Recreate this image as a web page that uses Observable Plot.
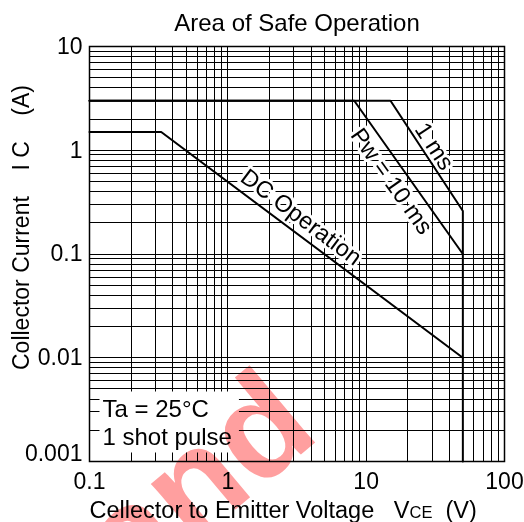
<!DOCTYPE html>
<html>
<head>
<meta charset="utf-8">
<script src="https://cdn.jsdelivr.net/npm/d3@7"></script>
<script src="https://cdn.jsdelivr.net/npm/@observablehq/plot@0.6"></script>
<style>
  html, body { margin: 0; padding: 0; background: #fff; }
  #chart svg { display: block; }
</style>
</head>
<body>
<div id="chart"></div>
<script>
// ---------- data ----------
const chartTitle = "Area of Safe Operation";
const xTitleMain = "Cellector to Emitter Voltage\u00A0\u00A0\u00A0V";
const xTitleSub = "CE";
const xTitleUnit = "\u00A0\u00A0(V)";
const yTitle = "Collector Current\u00A0\u00A0\u00A0\u00A0I\u00A0C\u00A0\u00A0\u00A0\u00A0(A)";
const legendText = "Ta = 25\u00B0C\n1 shot pulse";
const watermarkText = "and";

const xDomain = [0.1, 100];
const yDomain = [0.001, 10];
const xTicks = [0.1, 1, 10, 100];
const xTickLabels = ["0.1", "1", "10", "100"];
const yTicks = [10, 1, 0.1, 0.01, 0.001];
const yTickLabels = ["10", "1", "0.1", "0.01", "0.001"];

const gridSteps = [1, 2, 3, 4, 5, 6, 7, 8, 9];
const xDecades = [0.1, 1, 10];
const yDecades = [0.001, 0.01, 0.1, 1];

// SOA boundary curves (VCE in V, IC in A)
const dcV = [0.1, 0.33, 50];
const dcI = [1.5, 1.5, 0.01];
const pw10V = [0.1, 8.2, 50];
const pw10I = [3, 3, 0.1];
const pw1V = [0.1, 15, 50, 50];
const pw1I = [3, 3, 0.26, 0.001];

const curveNames = ["DC", "10ms", "1ms"];
const curveLabels = ["DC Operation", "Pw = 10 ms", "1 ms"];
const labelV = [2.9, 19, 26.5];          // where along each curve its label sits
const labelSide = ["above", "below", "above"];

// ---------- build ----------
const W = 524, H = 522;
const mTop = 46, mRight = 20, mBottom = 61, mLeft = 89;
const FONT = "'Liberation Sans', Arial, Helvetica, sans-serif";
const FS_TICK = 23, FS_TEXT = 23.5, FS_TITLE = 24;

const xGrid = xDecades.flatMap(d => gridSteps.map(s => +(s * d).toPrecision(3))).concat([xDomain[1]]);
const yGrid = yDecades.flatMap(d => gridSteps.map(s => +(s * d).toPrecision(3))).concat([yDomain[1]]);

const curves = [
  {name: curveNames[0], V: dcV, I: dcI},
  {name: curveNames[1], V: pw10V, I: pw10I},
  {name: curveNames[2], V: pw1V, I: pw1I}
];
const curveRows = curves.flatMap(c => c.V.map((v, i) => ({name: c.name, V: v, I: c.I[i]})));

const sx = Plot.scale({x: {type: "log", domain: xDomain, range: [mLeft, W - mRight]}});
const sy = Plot.scale({y: {type: "log", domain: yDomain, range: [H - mBottom, mTop]}});

const labelGap = [8, 7, 4];
const labelRows = curves.map((c, k) => {
  const v = labelV[k];
  let j = 0;
  while (j < c.V.length - 2 && !(v >= c.V[j] && v <= c.V[j + 1])) j++;
  const v1 = c.V[j], v2 = c.V[j + 1], i1 = c.I[j], i2 = c.I[j + 1];
  const t = Math.log(v / v1) / Math.log(v2 / v1);
  const I = Math.exp(Math.log(i1) + t * Math.log(i2 / i1));
  const a = Math.atan2(sy.apply(i2) - sy.apply(i1), sx.apply(v2) - sx.apply(v1));
  const g = labelGap[k];
  const s = labelSide[k] === "above" ? 1 : -1;
  return {
    text: curveLabels[k], V: v, I,
    angle: a * 180 / Math.PI,
    dx: s * g * Math.sin(a), dy: -s * g * Math.cos(a),
    lineAnchor: labelSide[k] === "above" ? "bottom" : "top"
  };
});

const tickRows = xTicks.map((v, i) => ({v, label: xTickLabels[i]}));
const yTickRows = yTicks.map((v, i) => ({v, label: yTickLabels[i]}));

const chart = Plot.plot({
  width: W, height: H,
  marginTop: mTop, marginRight: mRight, marginBottom: mBottom, marginLeft: mLeft,
  x: {type: "log", domain: xDomain, axis: null},
  y: {type: "log", domain: yDomain, axis: null},
  style: {fontFamily: FONT, background: "#fff", color: "#000", overflow: "visible"},
  marks: [
    Plot.ruleX(xGrid, {stroke: "#000", strokeWidth: 1, shapeRendering: "crispEdges"}),
    Plot.ruleY(yGrid, {stroke: "#000", strokeWidth: 1, shapeRendering: "crispEdges"}),
    // legend
    Plot.text([legendText], {
      frameAnchor: "bottom-left", dx: 13, dy: -17, textAnchor: "start", lineAnchor: "bottom",
      lineHeight: 28 / FS_TITLE, fontSize: FS_TITLE, fill: "#000"
    }),
    // curve labels with white halo
    ...labelRows.map(l => Plot.text([l], {
      x: "V", y: "I", text: "text", rotate: l.angle, dx: l.dx, dy: l.dy,
      textAnchor: "middle", lineAnchor: l.lineAnchor, fontSize: FS_TEXT, fill: "#000",
      stroke: "#fff", strokeWidth: 6
    })),
    Plot.line(curveRows, {x: "V", y: "I", z: "name", stroke: "#000", strokeWidth: 2, strokeLinejoin: "miter"}),
    Plot.frame({stroke: "#000", strokeWidth: 1.5}),
    // x tick labels
    Plot.text(tickRows, {x: "v", text: "label", frameAnchor: "bottom", dy: 20, lineAnchor: "middle", fontSize: FS_TICK, fill: "#000"}),
    // y tick labels
    Plot.text(yTickRows.filter(d => d.v !== yDomain[0]), {y: "v", text: "label", frameAnchor: "left", dx: -7, textAnchor: "end", lineAnchor: "middle", fontSize: FS_TICK, fill: "#000"}),
    Plot.text(yTickRows.filter(d => d.v === yDomain[0]), {y: "v", text: "label", frameAnchor: "left", dx: -7, dy: -8, textAnchor: "end", lineAnchor: "middle", fontSize: FS_TICK, fill: "#000"}),
    // title
    Plot.text([chartTitle], {frameAnchor: "top", dy: -16, lineAnchor: "bottom", fontSize: FS_TITLE, fill: "#000"}),
    // x title
    Plot.text([xTitleMain + xTitleSub + xTitleUnit], {frameAnchor: "bottom-left", dx: 0, dy: 56, textAnchor: "start", lineAnchor: "bottom", fontSize: FS_TEXT, fill: "#000"}),
    // y title
    Plot.text([yTitle], {frameAnchor: "left", dx: -61, dy: 116, rotate: -90, textAnchor: "start", lineAnchor: "bottom", fontSize: FS_TICK, fill: "#000"}),
    // watermark (blended like an overprinted stamp)
    Plot.text([watermarkText], {
      frameAnchor: "bottom-left", dx: 42, dy: 135, rotate: -40, textAnchor: "start", lineAnchor: "bottom",
      fontSize: 140, fontWeight: "bold", fill: "#ff9f9f", mixBlendMode: "multiply"
    })
  ]
});

document.getElementById("chart").appendChild(chart);

// ---------- post-processing ----------
const svg = d3.select(chart);
svg.selectAll("text").each(function () {
  const el = d3.select(this);
  if (this.textContent === xTitleMain + xTitleSub + xTitleUnit) {
    el.text(null);
    el.append("tspan").text(xTitleMain);
    el.append("tspan").attr("font-size", 16.5).text(xTitleSub);
    el.append("tspan").text(xTitleUnit);
  }
});
// white box behind legend
svg.selectAll("text").each(function () {
  if (this.textContent.indexOf("Ta = 25") === 0) {
    const bb = this.getBBox();
    const tr = this.getAttribute("transform");
    const rect = document.createElementNS("http://www.w3.org/2000/svg", "rect");
    rect.setAttribute("x", bb.x - 3);
    rect.setAttribute("y", bb.y - 3);
    rect.setAttribute("width", bb.width + 10);
    rect.setAttribute("height", bb.height + 6);
    rect.setAttribute("fill", "#fff");
    if (tr) rect.setAttribute("transform", tr);
    this.parentNode.insertBefore(rect, this);
  }
});
</script>
</body>
</html>
